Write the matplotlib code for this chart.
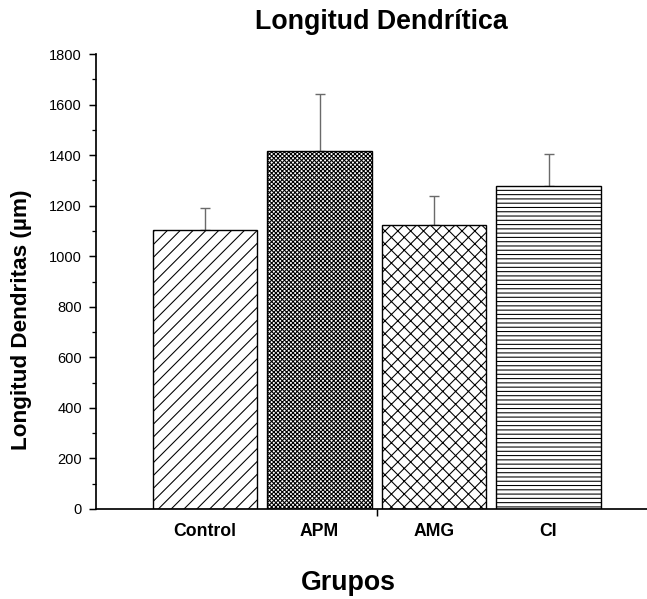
import matplotlib
matplotlib.use('Agg')
import matplotlib.pyplot as plt
from matplotlib.ticker import MultipleLocator

groups = ['Control', 'APM', 'AMG', 'CI']
longitud = [1105, 1416, 1123, 1278]   # mean dendrite length (um)
error = [86, 224, 114, 127]           # upper error bar
hatches = ['//', 'xxxxxx', 'xx', '---']

plt.rcParams['font.family'] = ['Liberation Sans', 'DejaVu Sans']
plt.rcParams['hatch.linewidth'] = 1.0

dpi = 77
fig = plt.figure(figsize=(647 / dpi, 599 / dpi), dpi=dpi)
# the category axis runs on past the right edge of the figure
ax = fig.add_axes([96 / 647, 90 / 599, 567 / 647, 455 / 599])

pos = [1, 2, 3, 4]
ax.bar(pos, longitud, width=0.91, color='white', edgecolor='black',
       hatch=hatches, linewidth=1.3, zorder=2)
ax.errorbar(pos, longitud, yerr=[[0] * 4, error], fmt='none',
            ecolor='#6a6a6a', elinewidth=1.3, capsize=5, capthick=1.3, zorder=1)

ax.set_xlim(0.048, 5)
ax.set_ylim(0, 1800)
ax.spines['top'].set_visible(False)
ax.spines['right'].set_visible(False)
ax.spines['left'].set_linewidth(1.6)
ax.spines['bottom'].set_linewidth(1.6)

ax.yaxis.set_major_locator(MultipleLocator(200))
ax.yaxis.set_minor_locator(MultipleLocator(100))
ax.tick_params(axis='y', which='major', length=7, width=1.4, labelsize=13.7, pad=6)
ax.tick_params(axis='y', which='minor', length=4, width=1.2)

ax.set_xticks([2.5])
ax.set_xticklabels([''])
ax.set_xticks(pos, minor=True)
ax.set_xticklabels(groups, minor=True, fontweight='bold', fontsize=16.5)
ax.tick_params(axis='x', which='major', length=7, width=1.4)
ax.tick_params(axis='x', which='minor', length=0, pad=13)

fig.text(22 / 647, 1 - 320 / 599, 'Longitud Dendritas (µm)', fontsize=21,
         fontweight='bold', rotation=90, ha='center', va='center')
fig.text(348 / 647, 1 - 583 / 599, 'Grupos', fontsize=25,
         fontweight='bold', ha='center', va='center')
fig.text(381 / 647, 1 - 22 / 599, 'Longitud Dendrítica', fontsize=25,
         fontweight='bold', ha='center', va='center')

fig.savefig('out.png', dpi=dpi)
